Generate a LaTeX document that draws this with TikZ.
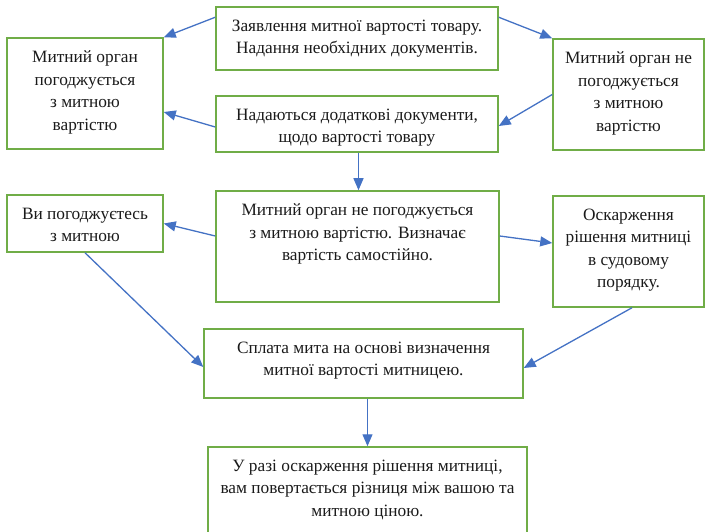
\documentclass[tikz,border=0pt]{standalone}
\usepackage{fontspec}
\setmainfont{Liberation Serif}
\usepackage{xcolor}
\usetikzlibrary{arrows.meta, positioning, calc}
\definecolor{boxgreen}{HTML}{70AD47}
\definecolor{arrowblue}{HTML}{4472C4}
\definecolor{textdark}{HTML}{1A1A1A}

\begin{document}
\begin{tikzpicture}[x=1pt, y=-1pt,
    stage/.style 2 args={rectangle, draw=boxgreen, line width=1.5pt,
                 minimum width=#1, minimum height=#2, inner sep=0pt},
    txt/.style={font=\rmfamily\fontsize{17.3}{22.5}\selectfont, color=textdark, align=center,
                anchor=north, inner sep=0pt},
    flow/.style={-{Triangle[length=12pt,width=10pt]}, draw=arrowblue, line width=1.3pt}
]
\useasboundingbox (0,0) rectangle (705,532);

% boxes
\node[stage={282}{63}]  (decl)   at (357,38.5)   {};
\node[stage={156}{111}] (agree)  at (85,93.5)    {};
\node[stage={151}{111}] (refuse) at (628.5,94.5) {};
\node[stage={282}{56}]  (docs)   at (357,124)    {};
\node[stage={283}{111}] (self)   at (357.5,246.5){};
\node[stage={156}{57}]  (you)    at (85,223.5)   {};
\node[stage={151}{111}] (appeal) at (628.5,251.5){};
\node[stage={319}{69}]  (pay)    at (363.5,363.5){};
\node[stage={319}{98}]  (refund) at (367.5,496)  {};

% texts
\node[txt] (decl-t)   at ([yshift=-13.5pt]decl.north)   {Заявлення митної вартості товару.\\Надання необхідних документів.};
\node[txt] (agree-t)  at ([yshift=-13.5pt]agree.north)  {Митний орган\\погоджується\\з митною\\вартістю};
\node[txt] (refuse-t) at ([yshift=-13.5pt]refuse.north) {Митний орган не\\погоджується\\з митною\\вартістю};
\node[txt] (docs-t)   at ([yshift=-13.5pt]docs.north)   {Надаються додаткові документи,\\щодо вартості товару};
\node[txt] (self-t)   at ([yshift=-13.5pt]self.north)   {Митний орган не погоджується\\з митною вартістю. Визначає\\вартість самостійно.};
\node[txt] (you-t)    at ([yshift=-13.5pt]you.north)    {Ви погоджуєтесь\\з митною};
\node[txt] (appeal-t) at ([yshift=-13.5pt]appeal.north) {Оскарження\\рішення митниці\\в судовому\\порядку.};
\node[txt] (pay-t)    at ([yshift=-13.5pt]pay.north)    {Сплата мита на основі визначення\\митної вартості митницею.};
\node[txt] (refund-t) at ([yshift=-13.5pt]refund.north) {У разі оскарження рішення митниці,\\вам повертається різниця між вашою та\\митною ціною.};

% connectors
\draw[flow] ([yshift=-11pt]decl.north west) -- (agree.north east);
\draw[flow] ([yshift=-11pt]decl.north east) -- (refuse.north west);
\draw[flow] ([yshift=-3pt]docs.west) -- ([yshift=-18.5pt]agree.east);
\draw[flow] (refuse.west) -- ([yshift=-2pt]docs.east);
\draw[flow] ([xshift=1.5pt]docs.south) -- ([xshift=1.5pt]docs.south |- self.north);
\draw[flow] ([yshift=10.5pt]self.west) -- (you.east);
\draw[flow] ([yshift=10.5pt]self.east) -- ([yshift=8.5pt]appeal.west);
\draw[flow] (you.south) -- ([yshift=-3.5pt]pay.west);
\draw[flow] ([xshift=3.5pt]appeal.south) -- ([yshift=-4.5pt]pay.east);
\draw[flow] (pay.south -| refund.north) -- (refund.north);
\end{tikzpicture}
\end{document}
